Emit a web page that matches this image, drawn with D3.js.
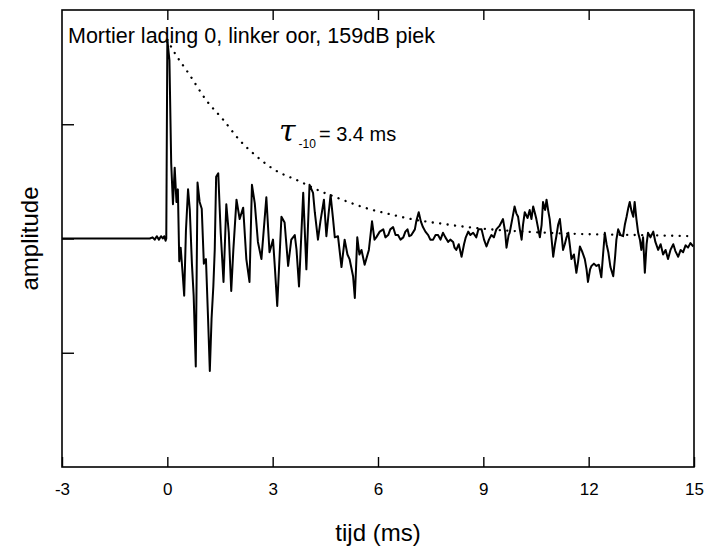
<!DOCTYPE html>
<html>
<head>
<meta charset="utf-8">
<style>
    body { margin: 0; background: #fff; }
    text { font-family: "Liberation Sans", Arial, sans-serif; fill: #000; }
    .axis line { stroke: #000; stroke-width: 1.4; }
    .axis path { display: none; }
</style>
</head>
<body>
<svg id="chart"></svg>
<script src="https://cdn.jsdelivr.net/npm/d3@7/dist/d3.min.js"></script>
<script>
    let width = 708,
        height = 548
    let margin = { left: 62, right: 14, top: 10, bottom: 81 }

    let xTicks = [-3, 0, 3, 6, 9, 12, 15]
    let yTicks = [-1, 0, 1]

    // measured signal: [time (ms), amplitude]
    let signal = [
        [-3, 0], [-0.5, 0], [-0.42, 0.01], [-0.36, -0.01], [-0.3, 0.02], [-0.24, -0.01],
        [-0.18, 0.02], [-0.13, 0], [-0.09, 0.02], [-0.05, -0.02], [-0.03, 0],
        [0.0, 1.74], [0.06, 1.56], [0.11, 0.66], [0.16, 0.3], [0.21, 0.62], [0.26, 0.32],
        [0.3, 0.43], [0.34, -0.2], [0.38, -0.08], [0.43, -0.28], [0.48, -0.5], [0.53, 0.07],
        [0.59, 0.43], [0.64, 0.25], [0.7, -0.22], [0.75, -0.5], [0.81, -1.12], [0.86, 0.49],
        [0.92, 0.32], [0.98, 0.26], [1.04, -0.22], [1.1, -0.18], [1.16, -0.7], [1.21, -1.16],
        [1.26, -0.7], [1.31, -0.42], [1.35, -0.1], [1.39, 0.54], [1.45, 0.57], [1.52, 0.05],
        [1.6, -0.38], [1.68, 0.3], [1.75, 0.05], [1.82, -0.46], [1.88, -0.1], [1.97, 0.34],
        [2.06, 0.17], [2.16, 0.27], [2.25, -0.18], [2.34, -0.38], [2.41, 0.47], [2.49, 0.31],
        [2.58, -0.03], [2.68, -0.18], [2.82, 0.36], [2.91, -0.12], [3.01, -0.01], [3.06, -0.24],
        [3.13, -0.59], [3.25, 0.19], [3.34, 0.14], [3.44, -0.24], [3.53, -0.01], [3.63, 0.03],
        [3.68, -0.1], [3.75, -0.42], [3.87, 0.4], [3.96, -0.27], [4.05, 0.47], [4.15, 0.4],
        [4.2, 0.23], [4.29, -0.01], [4.36, 0.15], [4.46, 0.34], [4.53, 0.02], [4.59, 0.21],
        [4.65, 0.38], [4.72, 0.17], [4.77, 0.01], [4.86, 0.02], [4.96, -0.25], [5.05, -0.01],
        [5.13, -0.14], [5.19, -0.18], [5.29, -0.33], [5.34, -0.52], [5.41, 0.01], [5.47, -0.14],
        [5.53, -0.1], [5.62, -0.23], [5.74, -0.1], [5.83, 0.15], [5.9, -0.01], [5.95, 0.01],
        [6.05, 0.06], [6.15, 0.08], [6.21, 0.01], [6.29, 0.03], [6.35, 0.08], [6.43, 0.1],
        [6.5, 0.03], [6.57, 0.03], [6.64, -0.01], [6.72, 0.01], [6.78, 0.06], [6.84, 0.08],
        [6.89, 0.02], [6.95, 0.03], [7.05, 0.08], [7.09, 0.15], [7.16, 0.23], [7.22, 0.15],
        [7.28, 0.1], [7.35, 0.06], [7.43, 0.03], [7.49, -0.01], [7.57, -0.01], [7.64, 0.03],
        [7.71, 0.03], [7.78, -0.01], [7.85, 0.05], [7.92, 0.01], [8.0, -0.03], [8.06, -0.01],
        [8.14, -0.03], [8.18, -0.08], [8.23, -0.1], [8.3, -0.05], [8.38, -0.16], [8.45, -0.05],
        [8.5, 0.01], [8.57, 0.06], [8.63, 0.03], [8.71, 0.05], [8.8, 0.01], [8.86, 0.08],
        [8.95, 0.08], [9.02, -0.01], [9.09, -0.07], [9.16, -0.01], [9.23, 0.03], [9.3, 0.01],
        [9.37, 0.08], [9.46, 0.11], [9.56, 0.17], [9.62, 0.06], [9.66, -0.08], [9.72, 0.03],
        [9.75, 0.05], [9.83, 0.18], [9.89, 0.28], [9.94, 0.22], [9.99, 0.19], [10.04, 0.08],
        [10.09, -0.01], [10.13, 0.12], [10.18, 0.23], [10.26, 0.18], [10.32, 0.25], [10.37, 0.17],
        [10.42, 0.28], [10.47, 0.22], [10.51, 0.17], [10.61, 0.01], [10.66, 0.12], [10.7, 0.32],
        [10.76, 0.25], [10.8, 0.34], [10.85, 0.24], [10.89, 0.17], [10.94, 0.01], [10.99, -0.16],
        [11.04, -0.05], [11.08, 0.02], [11.13, 0.12], [11.18, 0.17], [11.23, 0.03], [11.27, -0.1],
        [11.32, -0.05], [11.37, 0.01], [11.42, 0.05], [11.46, -0.05], [11.51, -0.18], [11.58, -0.14],
        [11.65, -0.3], [11.7, -0.2], [11.75, -0.07], [11.81, -0.11], [11.89, -0.18], [11.94, -0.27],
        [11.98, -0.38], [12.04, -0.27], [12.08, -0.24], [12.15, -0.22], [12.22, -0.24], [12.29, -0.23],
        [12.36, -0.34], [12.41, -0.14], [12.46, 0.05], [12.51, -0.05], [12.56, -0.12], [12.62, -0.25],
        [12.7, -0.33], [12.75, -0.17], [12.79, -0.01], [12.84, 0.08], [12.91, 0.03], [12.98, 0.02],
        [13.03, 0.12], [13.08, 0.19], [13.13, 0.27], [13.17, 0.32], [13.22, 0.24], [13.27, 0.19],
        [13.31, 0.32], [13.36, 0.17], [13.41, 0.05], [13.46, -0.01], [13.5, -0.1], [13.55, 0.01],
        [13.6, -0.3], [13.65, -0.05], [13.69, 0.05], [13.76, 0.01], [13.84, 0.06], [13.9, -0.03],
        [13.98, -0.1], [14.05, -0.05], [14.12, -0.14], [14.19, -0.1], [14.26, -0.18], [14.33, -0.1],
        [14.41, -0.05], [14.47, -0.11], [14.55, -0.16], [14.62, -0.1], [14.69, -0.12], [14.76, -0.06],
        [14.83, -0.08], [14.9, -0.04], [14.98, -0.07]
    ]

    // dotted decay envelope: [time (ms), amplitude]
    let envelope = [
        [0.0, 1.74], [0.16, 1.65], [0.64, 1.43], [1.11, 1.21], [1.59, 1.04], [2.06, 0.86],
        [2.54, 0.72], [3.01, 0.61], [3.77, 0.5], [4.39, 0.41], [4.81, 0.36], [5.24, 0.31],
        [5.62, 0.27], [6.1, 0.23], [6.52, 0.2], [6.95, 0.17], [7.33, 0.15], [7.81, 0.13],
        [8.28, 0.11], [8.85, 0.09], [10.18, 0.06], [11.7, 0.04], [13.41, 0.03], [15.0, 0.02]
    ]

    let svg = d3.select("#chart").attr("width", width).attr("height", height)

    let x = d3.scaleLinear().domain([-3, 15]).range([margin.left, width - margin.right])
    let y = d3.scaleLinear().domain([-2, 2]).range([height - margin.bottom, margin.top])

    // axes (inward ticks)
    svg.append("g").attr("class", "axis")
        .attr("transform", `translate(0,${height - margin.bottom})`)
        .call(d3.axisBottom(x).tickValues(xTicks).tickSizeInner(-10).tickSizeOuter(0)
            .tickPadding(16).tickFormat(d => String(d)))
        .selectAll("text").style("font-size", "17px")

    svg.append("g").attr("class", "axis")
        .attr("transform", `translate(0,${margin.top})`)
        .call(d3.axisTop(x).tickValues(xTicks.slice(1, -1)).tickSizeInner(-10).tickSizeOuter(0).tickFormat(""))

    svg.append("g").attr("class", "axis")
        .attr("transform", `translate(${margin.left},0)`)
        .call(d3.axisLeft(y).tickValues(yTicks).tickSizeInner(-12).tickSizeOuter(0).tickFormat(""))

    svg.append("rect")
        .attr("x", margin.left).attr("y", margin.top)
        .attr("width", width - margin.left - margin.right)
        .attr("height", height - margin.top - margin.bottom)
        .attr("fill", "none").attr("stroke", "#000").attr("stroke-width", 1.6)

    let line = d3.line().x(d => x(d[0])).y(d => y(d[1]))

    svg.append("path")
        .datum(envelope)
        .attr("d", line.curve(d3.curveMonotoneX))
        .attr("fill", "none").attr("stroke", "#000")
        .attr("stroke-width", 2.3).attr("stroke-linecap", "round")
        .attr("stroke-dasharray", "0.1 7.4")

    svg.append("path")
        .datum(signal)
        .attr("d", line.curve(d3.curveLinear))
        .attr("fill", "none").attr("stroke", "#000")
        .attr("stroke-width", 2).attr("stroke-linejoin", "round")

    // labels
    svg.append("text").attr("x", 68).attr("y", 43)
        .style("font-size", "21.5px")
        .text("Mortier lading 0, linker oor, 159dB piek")

    let tau = svg.append("text").attr("x", 279).attr("y", 141).style("font-size", "20px")
    tau.append("tspan").style("font-family", "'DejaVu Serif', serif").style("font-style", "italic")
        .style("font-size", "30px").text("τ")
    tau.append("tspan").attr("dx", 3).attr("dy", 7).style("font-size", "12px").text("-10")
    tau.append("tspan").attr("dx", 3).attr("dy", -7).text("= 3.4 ms")

    svg.append("text")
        .attr("x", (margin.left + width - margin.right) / 2).attr("y", 541)
        .attr("text-anchor", "middle").style("font-size", "24px")
        .text("tijd (ms)")

    svg.append("text")
        .attr("transform", `translate(38,${y(0)}) rotate(-90)`)
        .attr("text-anchor", "middle").style("font-size", "24px")
        .text("amplitude")
</script>
</body>
</html>
